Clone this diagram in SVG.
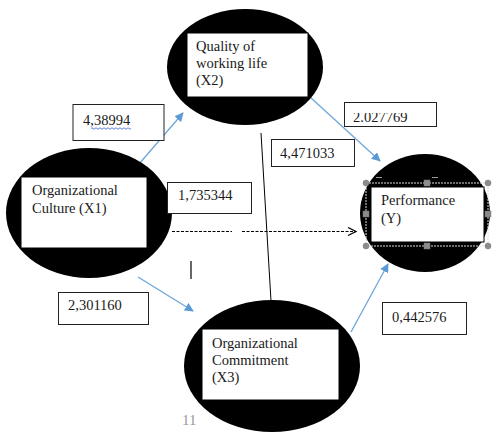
<svg xmlns="http://www.w3.org/2000/svg" width="492" height="433" viewBox="0 0 492 433">
<style>
.ell{fill:#000}
.box{fill:#fff;stroke:#000;stroke-width:1}
.lbl{fill:#fff;stroke:#222;stroke-width:1}
text{font-family:"Liberation Serif","Times New Roman",serif;font-size:14.5px;fill:#1a1a1a}
.blue{stroke:#6fa6d8;stroke-width:1.3;fill:none}
.handle{fill:#8c8c8c;stroke:#777;stroke-width:0.5}
</style>
<defs>
<marker id="bh" viewBox="0 0 10 10" refX="9" refY="5" markerWidth="9" markerHeight="9" markerUnits="userSpaceOnUse" orient="auto">
<path d="M0,0 L10,5 L0,10 z" fill="#5b9bd5"/>
</marker>
<marker id="oh" viewBox="0 0 10 10" refX="9" refY="5" markerWidth="10" markerHeight="10" markerUnits="userSpaceOnUse" orient="auto">
<path d="M1,1 L9,5 L1,9" fill="none" stroke="#000" stroke-width="1.2"/>
</marker>
<clipPath id="clipTop"><rect x="344" y="113" width="94" height="15"/></clipPath>
</defs>

<g id="connectors">
<line class="blue" x1="133" y1="171" x2="183" y2="113" marker-end="url(#bh)"/>
<line class="blue" x1="310" y1="97" x2="380" y2="161" marker-end="url(#bh)"/>
<line class="blue" x1="138" y1="277" x2="193" y2="311" marker-end="url(#bh)"/>
<line class="blue" x1="351" y1="332" x2="388" y2="264" marker-end="url(#bh)"/>
<line x1="172" y1="231.5" x2="232" y2="231.5" stroke="#000" stroke-width="1" stroke-dasharray="3,1.5"/>
<line x1="242" y1="231.5" x2="356" y2="231.5" stroke="#000" stroke-width="1" stroke-dasharray="3,1.5" marker-end="url(#oh)"/>
<line x1="261" y1="133" x2="271" y2="301" stroke="#000" stroke-width="1"/>
<line x1="191" y1="261" x2="191" y2="279" stroke="#000" stroke-width="1.2"/>
</g>

<g id="node-x2">
<ellipse class="ell" cx="245" cy="67" rx="78" ry="58"/>
<rect class="box" x="187" y="33" width="121" height="64"/>
<text x="196" y="51">Quality of</text>
<text x="196" y="68">working life</text>
<text x="196" y="85">(X2)</text>
</g>

<g id="node-x1">
<ellipse class="ell" cx="89" cy="213" rx="83" ry="65"/>
<rect class="box" x="21" y="177" width="126" height="71"/>
<text x="32" y="195">Organizational</text>
<text x="32" y="213">Culture (X1)</text>
</g>

<g id="node-x3">
<ellipse class="ell" cx="272" cy="366" rx="88" ry="66"/>
<rect class="box" x="202" y="329" width="137" height="71"/>
<text x="212" y="348">Organizational</text>
<text x="212" y="365">Commitment</text>
<text x="212" y="382">(X3)</text>
</g>

<g id="node-y">
<ellipse class="ell" cx="425" cy="213" rx="65" ry="59"/>
<rect class="box" x="371" y="187" width="113" height="55"/>
<rect x="366" y="183" width="122" height="63" fill="none" stroke="#ddd" stroke-width="1" stroke-dasharray="2,1"/>
<text x="381" y="205">Performance</text>
<text x="381" y="223">(Y)</text>
<circle class="handle" cx="366" cy="183" r="3"/>
<circle class="handle" cx="488" cy="183" r="3"/>
<circle class="handle" cx="366" cy="246" r="3"/>
<circle class="handle" cx="488" cy="246" r="3"/>
<rect class="handle" x="424" y="180" width="6" height="6"/>
<rect class="handle" x="424" y="243" width="6" height="6"/>
<rect class="handle" x="363" y="211" width="6" height="6"/>
<rect class="handle" x="485" y="211" width="6" height="6"/>
<line x1="376" y1="177.5" x2="382" y2="177.5" stroke="#999" stroke-width="1"/>
<line x1="432" y1="177.5" x2="438" y2="177.5" stroke="#999" stroke-width="1"/>
</g>

<g id="label-4-38994">
<rect class="lbl" x="73" y="104.5" width="91" height="36"/>
<text x="83" y="125">4,38994</text>
<path d="M91,128.5 q1,-1.5 2,0 t2,0 t2,0 t2,0 t2,0 t2,0 t2,0 t2,0 t2,0 t2,0 t2,0 t2,0 t2,0 t2,0 t2,0 t2,0 t2,0 t2,0 t2,0 t2,0" fill="none" stroke="#3a5fcd" stroke-width="0.8"/>
</g>

<g id="label-2-027769">
<rect class="lbl" x="344.5" y="102.5" width="92" height="24"/>
<text x="353" y="122" clip-path="url(#clipTop)">2.027769</text>
</g>

<g id="label-4-471033">
<rect class="lbl" x="271.5" y="139.5" width="83" height="27"/>
<text x="280" y="158">4,471033</text>
</g>

<g id="label-1-735344">
<rect class="lbl" x="167.5" y="182.5" width="84" height="31"/>
<text x="178" y="200">1,735344</text>
</g>

<g id="label-2-301160">
<rect class="lbl" x="58.5" y="292.5" width="90" height="32"/>
<text x="68" y="310">2,301160</text>
</g>

<g id="label-0-442576">
<rect class="lbl" x="382.5" y="302.5" width="84" height="32"/>
<text x="392" y="322">0,442576</text>
</g>

<text x="182" y="425" style="fill:#9a9a9a;font-size:15px">11</text>
</svg>
